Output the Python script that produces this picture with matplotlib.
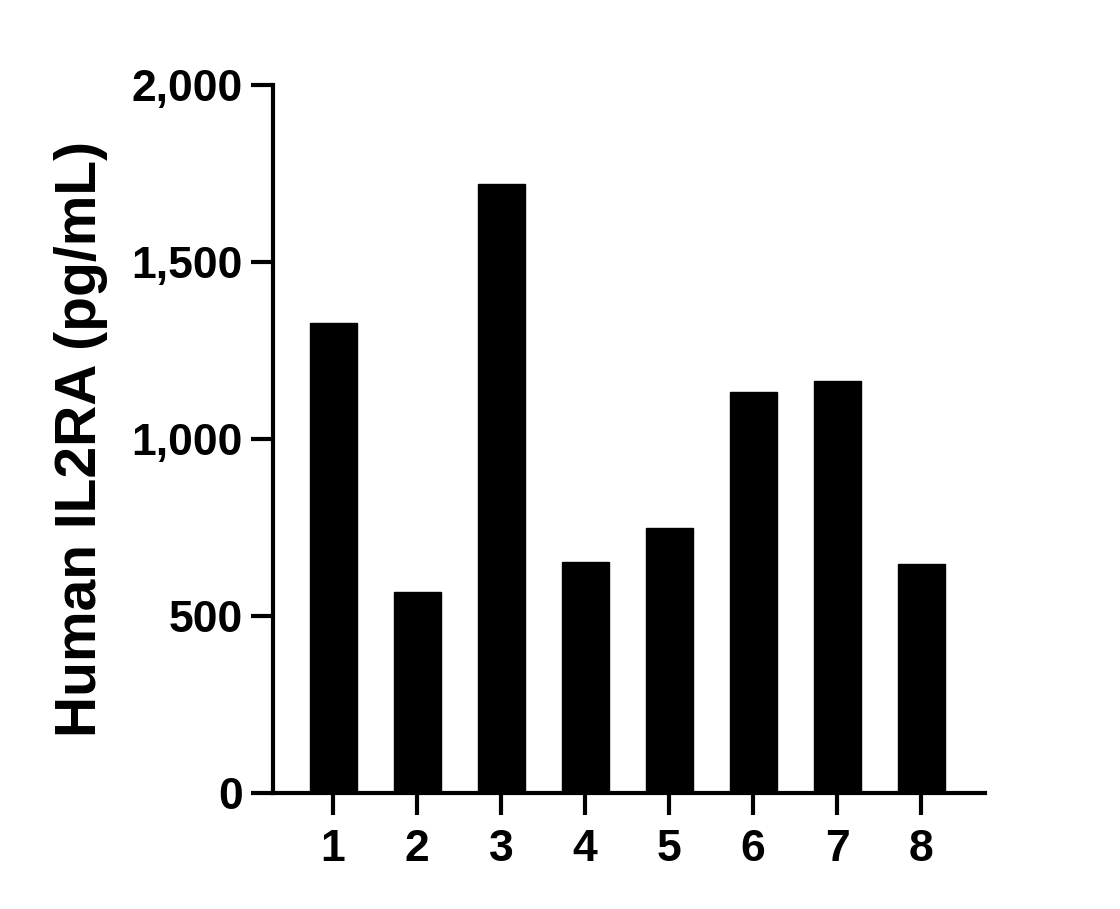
import matplotlib.pyplot as plt

plt.rcParams['font.family'] = ['Liberation Sans', 'DejaVu Sans']
plt.rcParams['font.weight'] = 'bold'

# values
samples = ['1', '2', '3', '4', '5', '6', '7', '8']
il2ra = [1328, 568, 1720, 653, 749, 1133, 1164, 647]
y_ticks = [0, 500, 1000, 1500, 2000]
y_labels = ['0', '500', '1,000', '1,500', '2,000']

fig = plt.figure(figsize=(11.2, 9.09), dpi=100)
ax = fig.add_axes([0.2438, 0.1276, 0.6357, 0.7789])

xpos = list(range(1, len(samples) + 1))
ax.bar(xpos, il2ra, width=0.56, color='black', edgecolor='black')

ax.set_xlim(0.286, 8.76)
ax.set_ylim(0, 2000)
ax.set_xticks(xpos)
ax.set_xticklabels(samples)
ax.set_yticks(y_ticks)
ax.set_yticklabels(y_labels)

for side in ['top', 'right']:
    ax.spines[side].set_visible(False)
for side in ['left', 'bottom']:
    ax.spines[side].set_linewidth(3)
    ax.spines[side].set_capstyle('projecting')

ax.tick_params(axis='both', length=16, width=3, labelsize=32)
ax.tick_params(axis='x', pad=10)
ax.tick_params(axis='y', pad=6)

ax.set_ylabel('Human IL2RA (pg/mL)', fontsize=41, fontweight='bold')
ax.yaxis.set_label_coords(-0.232, 0.5)

fig.savefig('out.png', dpi=100)
